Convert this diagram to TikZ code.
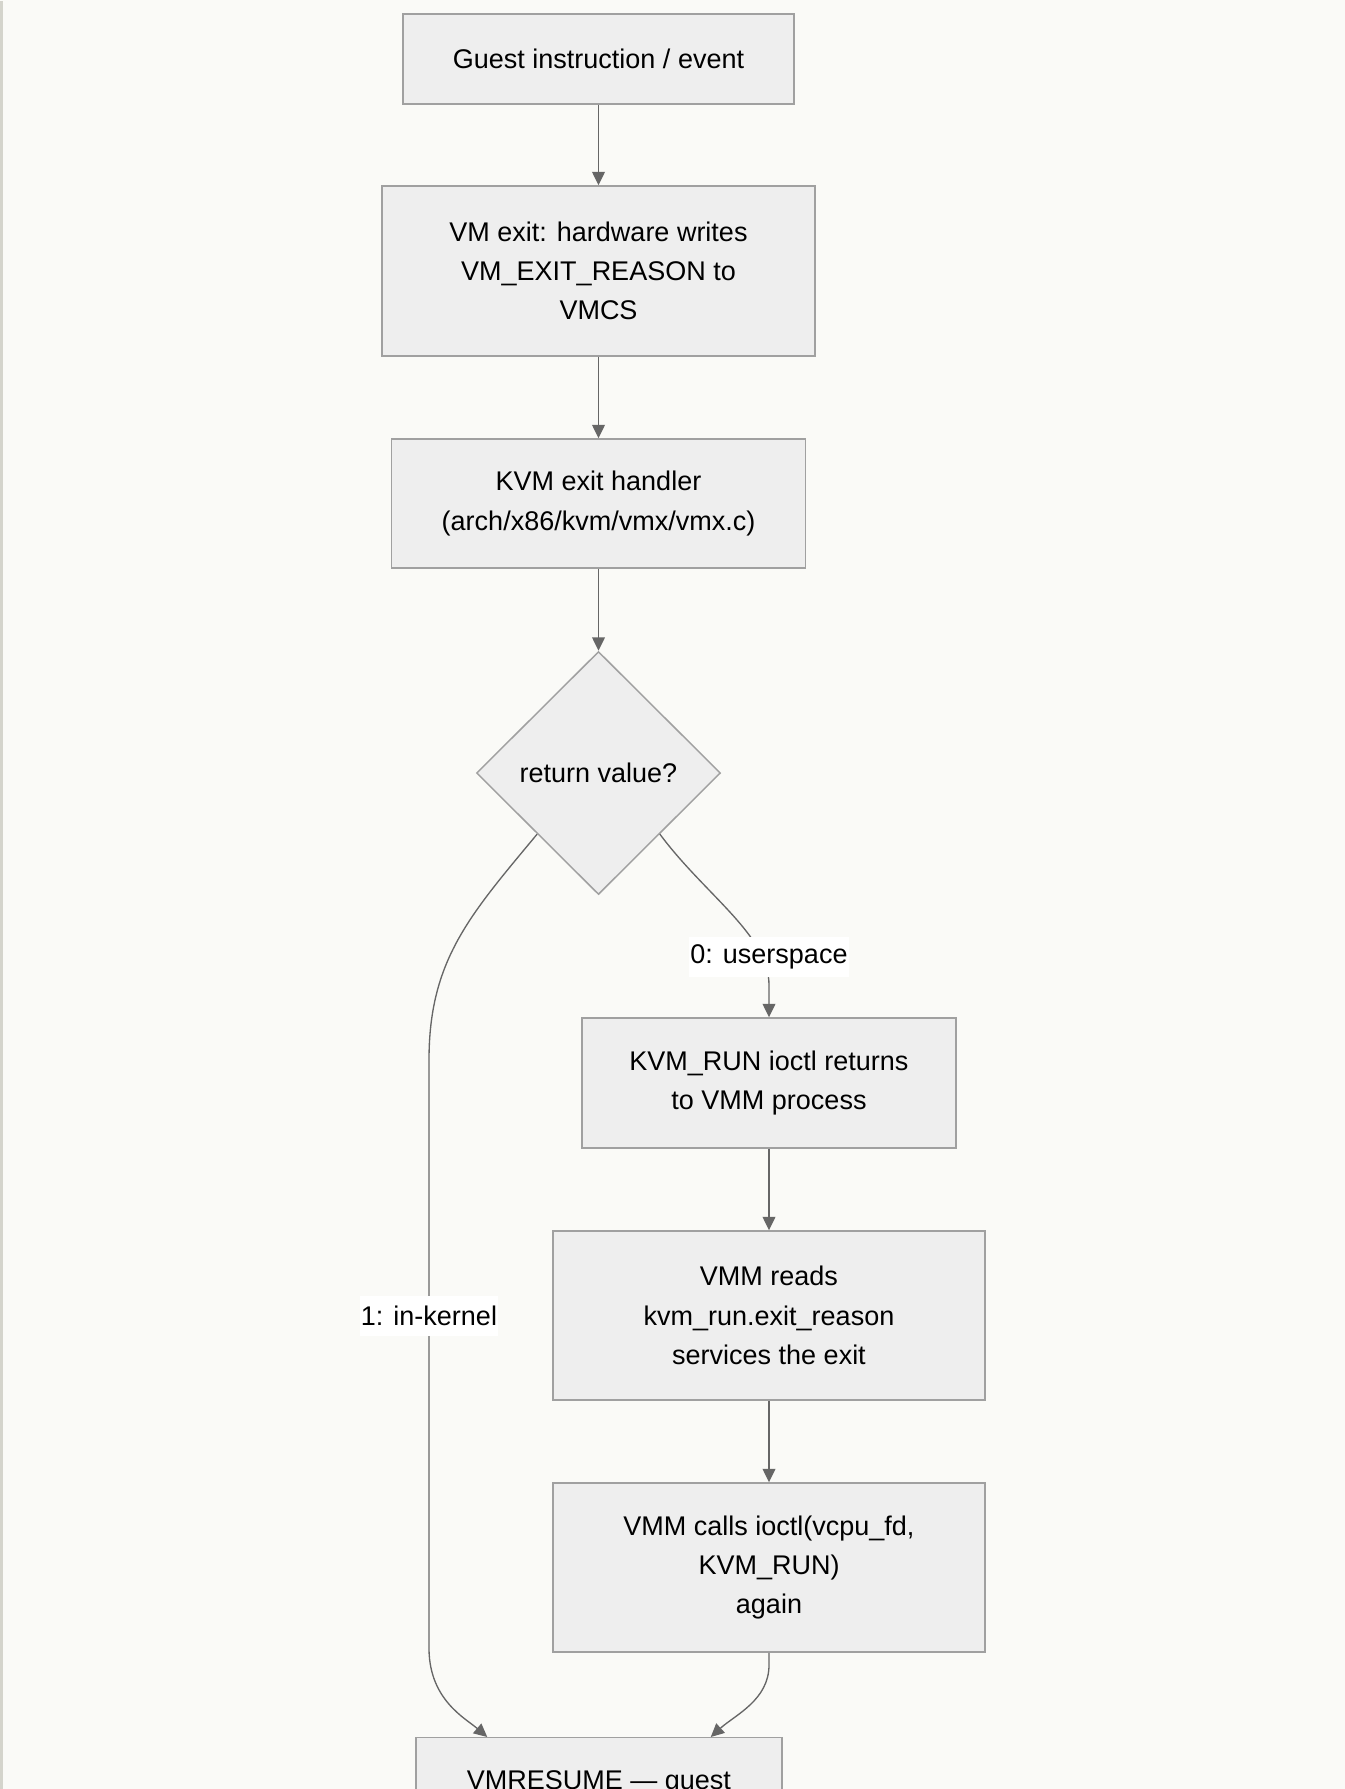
\documentclass[tikz,border=0pt]{standalone}
\usepackage{fontspec}
\setmainfont{Liberation Sans}
\usetikzlibrary{shapes.geometric,arrows.meta,calc}
\definecolor{bg}{HTML}{FAFAF7}
\definecolor{boxfill}{HTML}{EEEEEE}
\definecolor{boxline}{HTML}{A0A0A0}
\definecolor{edgecol}{HTML}{666666}
\definecolor{rulecol}{HTML}{D4D4CC}
\begin{document}
\begin{tikzpicture}[x=0.75pt,y=-0.75pt,
  txt/.style={font=\fontsize{20.25pt}{29.5pt}\selectfont},
  box/.style={txt,draw=boxline,line width=1.1pt,fill=boxfill,align=center,inner sep=0pt},
  dec/.style={box,diamond,minimum width=183pt,minimum height=182.25pt},
  arr/.style={draw=edgecol,line width=1pt,-{Triangle[length=10pt,width=9.5pt]},fill=none},
  lbl/.style={txt,fill=white,inner xsep=1pt,inner ysep=0pt,minimum height=30pt}]
\useasboundingbox (0,0) rectangle (1345,1789);
\clip (0,0) rectangle (1345,1789);
\fill[bg] (0,0) rectangle (1345,1789);
\fill[rulecol] (0,1) rectangle (3,1789);

\node[box,minimum width=293.25pt,minimum height=67.5pt] (b1) at (598.5,59) {Guest instruction / event};
\node[box,minimum width=324.75pt,minimum height=127.5pt] (b2) at (598.5,271) {VM exit: hardware writes\\VM\_EXIT\_REASON to\\VMCS};
\node[box,minimum width=310.5pt,minimum height=96.75pt] (b3) at (598.5,503.5) {KVM exit handler\\(arch/x86/kvm/vmx/vmx.c)};
\node[dec] (d) at (598.5,773) {return value?};
\node[box,minimum width=280.5pt,minimum height=97.5pt] (b4) at (769,1083) {KVM\_RUN ioctl returns\\to VMM process};
\node[box,minimum width=324pt,minimum height=126.75pt] (b5) at (769,1315.5) {VMM reads\\kvm\_run.exit\_reason\\services the exit};
\node[box,minimum width=324pt,minimum height=126.75pt] (b6) at (769,1567.5) {VMM calls ioctl(vcpu\_fd,\\KVM\_RUN)\\again};
\node[box,minimum width=274.5pt,minimum height=127.5pt,anchor=north] (vmr) at (599,1737) {};
\node[txt] (vmrt) at (599,1783) {VMRESUME — guest};

\draw[arr] (b1.south) -- (b1.south |- b2.north);
\draw[arr] (b2.south) -- (b2.south |- b3.north);
\draw[arr] (b3.south) -- (b3.south |- d.north);
\draw[arr] ($(d.west)!0.5!(d.south)$) .. controls (470,915) and (429,960) .. (429,1060) -- (429,1650) .. controls (430,1700) and (465,1718) .. ($(vmr.north west)+(72,0)$);
\draw[arr] ($(d.east)!0.5!(d.south)$) .. controls (705,895) and (769,935) .. (769,985) -- (b4.north);
\draw[arr] (b4.south) -- (b5.north);
\draw[arr] (b5.south) -- (b6.north);
\draw[arr] (b6.south) -- (769,1665) .. controls (769,1700) and (735,1715) .. ($(vmr.north east)+(-72,0)$);

\node[lbl] (l0) at (769,957) {0: userspace};
\node[lbl] (l1) at (429,1316) {1: in-kernel};
\end{tikzpicture}
\end{document}
